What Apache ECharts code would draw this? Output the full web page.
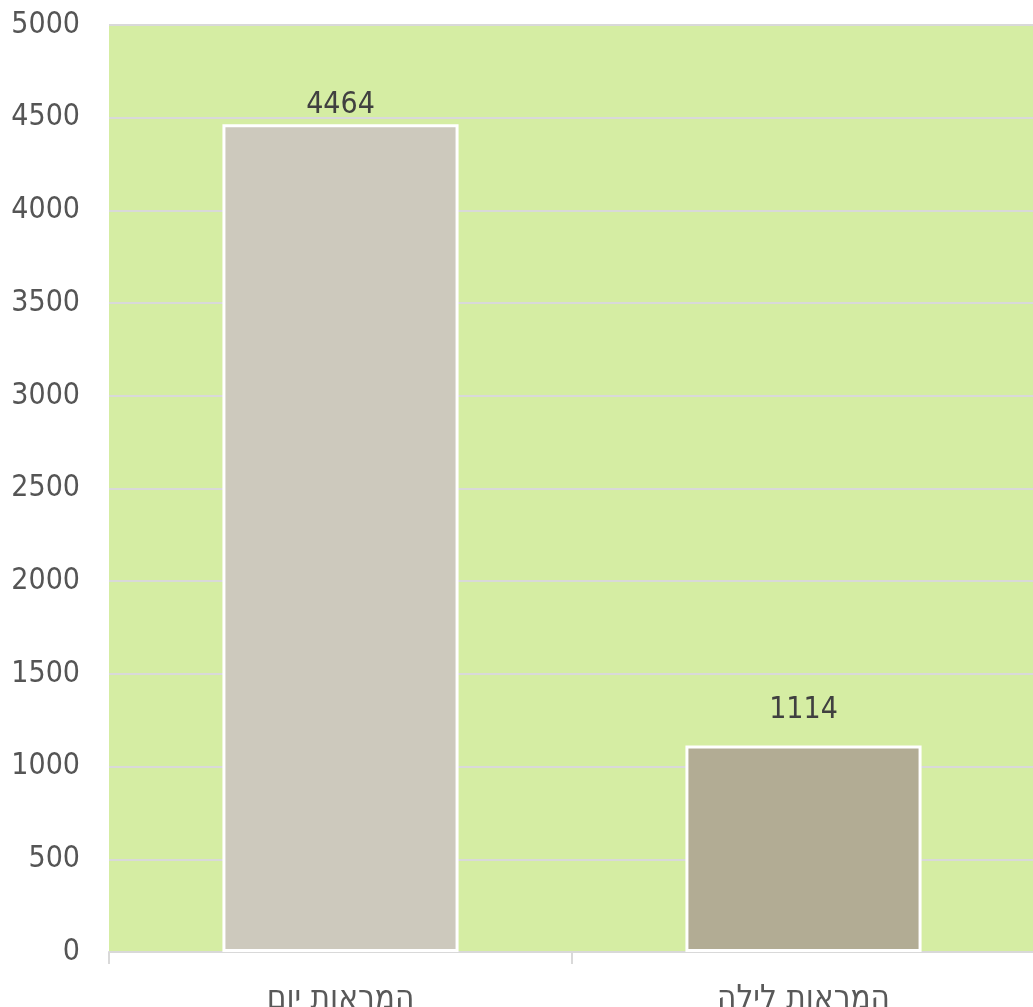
<!DOCTYPE html>
<html><head><meta charset="utf-8">
<style>html,body{margin:0;padding:0;background:#fff;}#c{width:1033px;height:1007px;}</style>
<script src="https://cdn.jsdelivr.net/npm/echarts@6/dist/echarts.min.js"></script>
</head><body><div id="c"></div>
<script>
const categories = ['המראות יום', 'המראות לילה'];
const values = [4464, 1114];
const barColors = ['#cdc9bd', '#b2ac94'];
const labelDistances = [4, 20];
const yTicks = { min: 0, max: 5000, interval: 500 };

const chart = echarts.init(document.getElementById('c'));
const FONT = 'DejaVu Sans Condensed, DejaVu Sans';
chart.setOption({
  animation: false,
  grid: { left: 109, right: -2, top: 25, bottom: 55, show: true, backgroundColor: '#d5eda3', borderWidth: 0, containLabel: false, outerBoundsMode: 'none' },
  xAxis: {
    type: 'category', data: categories,
    axisLine: { lineStyle: { color: '#d9d9d9', width: 2 } },
    axisTick: { show: true, length: 12, lineStyle: { color: '#d9d9d9', width: 2 } },
    axisLabel: { color: '#595959', fontSize: 33, fontFamily: FONT, margin: 31 }
  },
  yAxis: {
    type: 'value', min: yTicks.min, max: yTicks.max, interval: yTicks.interval,
    axisLine: { show: false }, axisTick: { show: false },
    splitLine: { lineStyle: { color: '#d9d9d9', width: 2 } },
    axisLabel: { color: '#555555', fontSize: 30, fontFamily: FONT, margin: 29, formatter: v => String(v) }
  },
  series: [{
    type: 'bar', barWidth: '51%',
    data: values.map((v, i) => ({
      value: v,
      itemStyle: { color: barColors[i], borderColor: '#ffffff', borderWidth: 3 },
      label: { show: true, position: 'top', distance: labelDistances[i], color: '#404040', fontSize: 30, fontFamily: FONT }
    }))
  }]
});
</script></body></html>
